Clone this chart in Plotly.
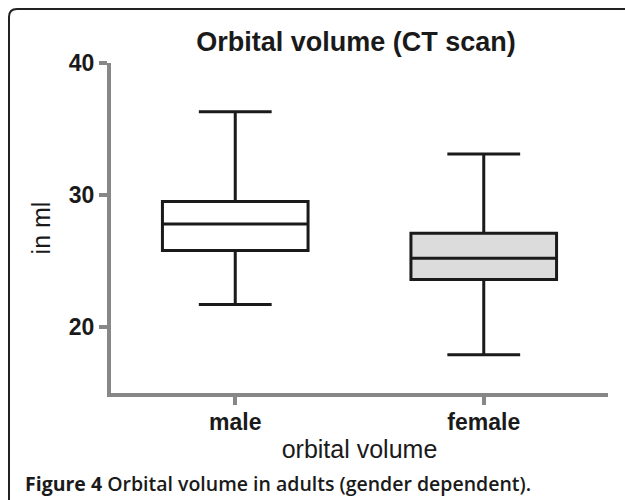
import plotly.graph_objects as go

groups = ["male", "female"]
lower_whisker = [21.7, 17.9]
q1 = [25.8, 23.6]
median = [27.8, 25.2]
q3 = [29.5, 27.1]
upper_whisker = [36.3, 33.1]
fills = ["#ffffff", "#dcdcdc"]

W, H = 625, 500
L, R, T, B = 111, 17, 63, 107
pw, ph = W - L - R, H - T - B


def px_x(x):
    return (x - L) / pw


def px_y(y):
    return (H - B - y) / ph


fig = go.Figure()
for i, g in enumerate(groups):
    fig.add_trace(go.Box(
        x=[g], q1=[q1[i]], median=[median[i]], q3=[q3[i]],
        lowerfence=[lower_whisker[i]], upperfence=[upper_whisker[i]],
        fillcolor=fills[i], line=dict(color="#1a1a1a", width=3),
        width=0.586, whiskerwidth=0.5, boxpoints=False,
        showlegend=False, hoverinfo="skip",
    ))

axis_grey = "#878787"
fig.update_xaxes(
    type="category", range=[-0.5, 1.5], showgrid=False, zeroline=False,
    showline=True, linecolor=axis_grey, linewidth=4,
    ticks="outside", ticklen=8, tickwidth=4, tickcolor=axis_grey,
    ticklabelstandoff=-3,
    tickfont=dict(family="Liberation Sans", size=23, color="#1a1a1a", weight="bold"),
    title=dict(text="orbital volume", standoff=8,
               font=dict(family="Liberation Sans", size=25, color="#1a1a1a")),
)
fig.update_yaxes(
    range=[15, 40], tickvals=[20, 30, 40], showgrid=False, zeroline=False,
    showline=True, linecolor=axis_grey, linewidth=4,
    ticks="outside", ticklen=8, tickwidth=4, tickcolor=axis_grey,
    tickfont=dict(family="Liberation Sans", size=23, color="#1a1a1a", weight="bold"),
    title=dict(text="in ml", standoff=12,
               font=dict(family="Liberation Sans", size=25, color="#1a1a1a")),
)

# rounded frame (cut off at right and bottom)
r = 8
x0, y0 = px_x(9), px_y(9)
path = (f"M {x0},{px_y(H + 5)} L {x0},{px_y(9 + r)} "
        f"Q {x0},{y0} {px_x(9 + r)},{y0} L {px_x(W + 5)},{y0}")
fig.add_shape(type="path", path=path, xref="paper", yref="paper",
              line=dict(color="#222222", width=2))

fig.add_annotation(
    text="<b>Figure 4</b> Orbital volume in adults (gender dependent).",
    xref="paper", yref="paper", x=px_x(23), y=px_y(483),
    xanchor="left", yanchor="middle", showarrow=False,
    font=dict(family="Open Sans", size=19.5, color="#1a1a1a", weight=600),
)

fig.update_layout(
    width=W, height=H,
    margin=dict(l=L, r=R, t=T, b=B),
    paper_bgcolor="white", plot_bgcolor="white",
    title=dict(text="<b>Orbital volume (CT scan)</b>", x=356 / W, y=1 - 42 / H,
               xanchor="center", yanchor="middle",
               font=dict(family="Liberation Sans", size=27, color="#1a1a1a")),
)

fig.write_html("out.html", config={"displayModeBar": False},
               post_script="document.body.style.margin='0';")
